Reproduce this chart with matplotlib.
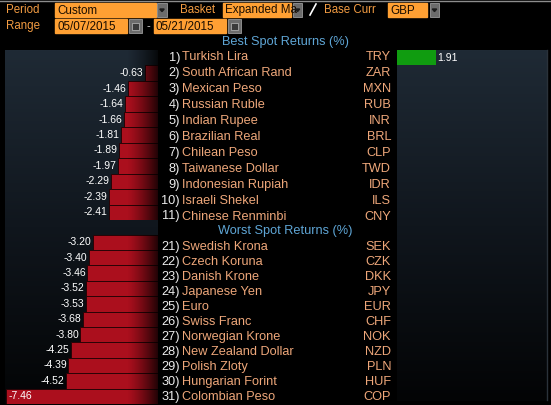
import matplotlib
matplotlib.use("Agg")
import matplotlib.pyplot as plt
import numpy as np
from matplotlib.colors import LinearSegmentedColormap
from matplotlib.patches import Rectangle, Polygon

# ---- data -------------------------------------------------------------
best_ranks = [1, 2, 3, 4, 5, 6, 7, 8, 9, 10, 11]
best_names = [
    "Turkish Lira", "South African Rand", "Mexican Peso", "Russian Ruble",
    "Indian Rupee", "Brazilian Real", "Chilean Peso", "Taiwanese Dollar",
    "Indonesian Rupiah", "Israeli Shekel", "Chinese Renminbi",
]
best_codes = ["TRY", "ZAR", "MXN", "RUB", "INR", "BRL", "CLP", "TWD", "IDR", "ILS", "CNY"]
best_values = [1.91, -0.63, -1.46, -1.64, -1.66, -1.81, -1.89, -1.97, -2.29, -2.39, -2.41]

worst_ranks = [21, 22, 23, 24, 25, 26, 27, 28, 29, 30, 31]
worst_names = [
    "Swedish Krona", "Czech Koruna", "Danish Krone", "Japanese Yen", "Euro",
    "Swiss Franc", "Norwegian Krone", "New Zealand Dollar", "Polish Zloty",
    "Hungarian Forint", "Colombian Peso",
]
worst_codes = ["SEK", "CZK", "DKK", "JPY", "EUR", "CHF", "NOK", "NZD", "PLN", "HUF", "COP"]
worst_values = [-3.20, -3.40, -3.46, -3.52, -3.53, -3.68, -3.80, -4.25, -4.39, -4.52, -7.46]

period = "Custom"
basket = "Expanded Ma"
base_curr = "GBP"
start_date = "05/07/2015"
end_date = "05/21/2015"

# ---- style ------------------------------------------------------------
W, H = 551, 405
FONT = "Liberation Sans"
ORANGE_BOX = "#ffa033"
ORANGE_TXT = "#f39c42"
NAME_COL = "#eea77a"
HEAD_COL = "#5fa6d6"
RED = "#ab0f1d"
GREEN = "#109c10"

plt.rcParams["font.family"] = [FONT, "DejaVu Sans"]

fig = plt.figure(figsize=(W / 100, H / 100), dpi=100)
fig.patch.set_facecolor("black")


def px_axes(x, y, w, h):
    return fig.add_axes([x / W, 1 - (y + h) / H, w / W, h / H])


base = px_axes(0, 0, W, H)
base.set_facecolor("black")

panel_cmap = LinearSegmentedColormap.from_list("panel", ["#1f2a35", "#10161d", "#030405"])
grad = np.linspace(0, 1, 256).reshape(-1, 1)
base.imshow(grad, cmap=panel_cmap, extent=(5, 158, 404, 50), aspect="auto", zorder=1)
base.imshow(grad, cmap=panel_cmap, extent=(397, 548, 401, 50), aspect="auto", zorder=1)
base.plot([547, 547], [50, 400], color="#2a323a", lw=1, zorder=2)
base.plot([0, W], [0.5, 0.5], color="#8c8c8c", lw=1)


# header widgets
def box(x0, x1, y0, y1, text, size=8.4):
    base.add_patch(Rectangle((x0, y0), x1 - x0, y1 - y0, color=ORANGE_BOX, zorder=3))
    t = base.text(x0 + 2, (y0 + y1) / 2 + 0.5, text, color="#1a0d00", fontsize=size,
                  va="center", ha="left", zorder=4)
    t.set_clip_path(Rectangle((x0, y0), x1 - x0, y1 - y0, transform=base.transData))


def dropdown(x0, x1, y0, y1):
    base.add_patch(Rectangle((x0, y0), x1 - x0, y1 - y0, facecolor="#6c6c6c",
                             edgecolor="#9a9a9a", lw=0.6, zorder=3))
    cx, cy = (x0 + x1) / 2, (y0 + y1) / 2
    base.add_patch(Polygon([[cx - 2.2, cy - 1], [cx + 2.2, cy - 1], [cx, cy + 1.6]],
                           color="#1c1c1c", zorder=4))


def calendar(x0, x1, y0, y1):
    base.add_patch(Rectangle((x0, y0), x1 - x0, y1 - y0, facecolor="#6c6c6c",
                             edgecolor="#9a9a9a", lw=0.6, zorder=3))
    base.add_patch(Rectangle((x0 + 3, y0 + 4), x1 - x0 - 6, y1 - y0 - 7,
                             facecolor="#3a3a3a", edgecolor="#bdbdbd", lw=0.5, zorder=4))


for label, x, y in [("Period", 6, 10), ("Range", 6, 26), ("Basket", 180, 10), ("Base Curr", 324, 10)]:
    base.text(x, y, label, color=ORANGE_TXT, fontsize=8.3, va="center", ha="left", zorder=4)

box(55, 156, 3, 17, period)
dropdown(157, 167, 3, 17)
box(223, 291, 3, 17, basket)
dropdown(293, 302, 3, 17)
base.plot([310, 316], [15, 4], color="white", lw=1.2, zorder=4)
box(388, 427, 3, 17, base_curr)
dropdown(430, 439, 3, 17)

box(55, 127, 19, 33, start_date)
calendar(129, 142, 19, 33)
base.text(148, 26, "-", color="#dddddd", fontsize=8, va="center", ha="center")
box(154, 226, 19, 33, end_date)
calendar(228, 241, 19, 33)

# section headers and row labels
base.text(286, 42.5, "Best Spot Returns (%)", color=HEAD_COL, fontsize=9.2, ha="center", va="center")
base.text(285, 231, "Worst Spot Returns (%)", color=HEAD_COL, fontsize=9.2, ha="center", va="center")


def row_labels(ranks, names, codes, y0, step):
    for i, (r, n, c) in enumerate(zip(ranks, names, codes)):
        y = y0 + step * i
        base.text(180, y, f"{r})", color="#ececec", fontsize=9.2, ha="right", va="center")
        base.text(182, y, n, color=NAME_COL, fontsize=9.2, ha="left", va="center")
        base.text(391, y, c, color=NAME_COL, fontsize=9.2, ha="right", va="center")


row_labels(best_ranks, best_names, best_codes, 57.5, 15.9)
row_labels(worst_ranks, worst_names, worst_codes, 247, 15.0)

base.set_xlim(0, W)
base.set_ylim(H, 0)
base.axis("off")

# ---- bar panels -------------------------------------------------------
SCALE = 20.4  # pixels per percentage point
fade = np.zeros((1, 256, 4))
fade[0, :, 3] = np.linspace(0, 0.85, 256) ** 1.3


def neg_panel(values, y, h):
    ax = px_axes(5, y, 153, h)
    ax.set_facecolor("none")
    n = len(values)
    rows = np.arange(n)
    neg = [v if v < 0 else 0 for v in values]
    ax.barh(rows, neg, height=1.0, color=RED, edgecolor="#2a0306", lw=0.7, zorder=2)
    ax.imshow(fade, extent=(-1.5, 0, n - 0.5, -0.5), aspect="auto", zorder=3)
    for r, v in zip(rows, values):
        if v >= 0:
            continue
        if v < -6.5:
            ax.text(v + 0.12, r, f"{v:.2f}", color="white", fontsize=7.5, ha="left", va="center", zorder=4)
        else:
            ax.text(v - 0.08, r, f"{v:.2f}", color="white", fontsize=7.5, ha="right", va="center", zorder=4)
    ax.set_xlim(-153 / SCALE, 0)
    ax.set_ylim(n - 0.5, -0.5)
    ax.axis("off")


neg_panel(best_values, 50, 170)
neg_panel(worst_values, 234.5, 169.5)

ax_pos = px_axes(397, 50, 151, 170)
ax_pos.set_facecolor("none")
pos_rows = np.arange(len(best_values))
pos = [v if v > 0 else 0 for v in best_values]
ax_pos.barh(pos_rows, pos, height=1.0, color=GREEN, zorder=2)
for r, v in zip(pos_rows, best_values):
    if v > 0:
        ax_pos.text(v + 0.06, r, f"{v:.2f}", color="white", fontsize=7.5, ha="left", va="center", zorder=4)
ax_pos.set_xlim(0, 151 / SCALE)
ax_pos.set_ylim(len(best_values) - 0.5, -0.5)
ax_pos.axis("off")

fig.savefig("out.png", dpi=100, facecolor=fig.get_facecolor())
